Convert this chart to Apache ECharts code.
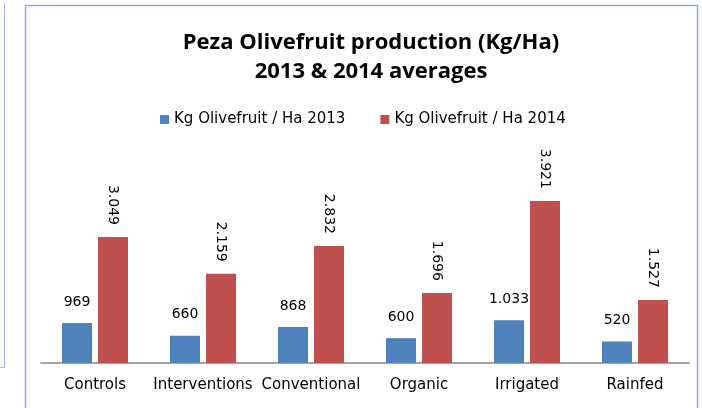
<!DOCTYPE html>
<html lang="en">
<head>
    <meta charset="UTF-8">
    <title>Peza Olivefruit production</title>
    <style>
        html, body { margin: 0; padding: 0; background: #fff; }
        #main { width: 702px; height: 408px; }
    </style>
</head>
<body>
    <div id="main"></div>
    <script src="https://cdn.jsdelivr.net/npm/echarts@6/dist/echarts.min.js"></script>
    <script>
        var categories = ["Controls", "Interventions", "Conventional", "Organic", "Irrigated", "Rainfed"];
        var seriesNames = ["Kg Olivefruit / Ha 2013", "Kg Olivefruit / Ha 2014"];
        var values2013 = [969, 660, 868, 600, 1033, 520];
        var values2014 = [3049, 2159, 2832, 1696, 3921, 1527];

        // thousands with a dot, like the original sheet
        function fmt(p) {
            return String(p.value).replace(/\B(?=(\d{3})+(?!\d))/g, ".");
        }

        var myChart = echarts.init(document.getElementById("main"));
        var option = {
            backgroundColor: "#fff",
            animation: false,
            graphic: [
                {
                    type: "rect",
                    shape: { x: 25.5, y: 5.5, width: 672, height: 420 },
                    style: { fill: "none", stroke: "#8eaad8", lineWidth: 1.5 }
                },
                {
                    type: "polyline",
                    shape: { points: [[4.5, 3], [4.5, 367.5], [0, 367.5]] },
                    style: { fill: "none", stroke: "#9fb6dc", lineWidth: 1 }
                }
            ],
            title: {
                text: "Peza Olivefruit production (Kg/Ha)\n2013 & 2014 averages",
                left: 366,
                top: 23,
                textAlign: "center",
                textStyle: {
                    fontFamily: "Open Sans",
                    fontWeight: "bold",
                    fontSize: 22,
                    lineHeight: 29,
                    color: "#000"
                }
            },
            legend: {
                data: seriesNames,
                left: 155,
                top: 107,
                icon: "rect",
                itemWidth: 9,
                itemHeight: 9,
                itemGap: 35,
                textStyle: {
                    fontFamily: "DejaVu Sans",
                    fontSize: 15,
                    color: "#000"
                }
            },
            grid: {
                left: 41,
                right: 13,
                top: 177,
                bottom: 45,
                containLabel: false
            },
            xAxis: {
                type: "category",
                data: categories,
                axisLine: { lineStyle: { color: "#868686", width: 1.5 } },
                axisTick: { show: false },
                axisLabel: {
                    margin: 15,
                    fontFamily: "DejaVu Sans",
                    fontSize: 15,
                    color: "#000",
                    interval: 0
                }
            },
            yAxis: {
                type: "value",
                min: 0,
                max: 4500,
                show: false,
                splitLine: { show: false }
            },
            series: [
                {
                    name: seriesNames[0],
                    type: "bar",
                    data: values2013,
                    barWidth: 30,
                    barGap: "20%",
                    itemStyle: { color: "#4f81bd" },
                    label: {
                        show: true,
                        position: "top",
                        distance: 14,
                        formatter: fmt,
                        fontFamily: "DejaVu Sans",
                        fontSize: 14,
                        color: "#000"
                    }
                },
                {
                    name: seriesNames[1],
                    type: "bar",
                    data: values2014,
                    barWidth: 30,
                    itemStyle: { color: "#c0504d" },
                    label: {
                        show: true,
                        position: "top",
                        distance: 12,
                        rotate: -90,
                        align: "right",
                        verticalAlign: "middle",
                        formatter: fmt,
                        fontFamily: "DejaVu Sans",
                        fontSize: 14,
                        color: "#000"
                    }
                }
            ]
        };
        myChart.setOption(option);
    </script>
</body>
</html>
